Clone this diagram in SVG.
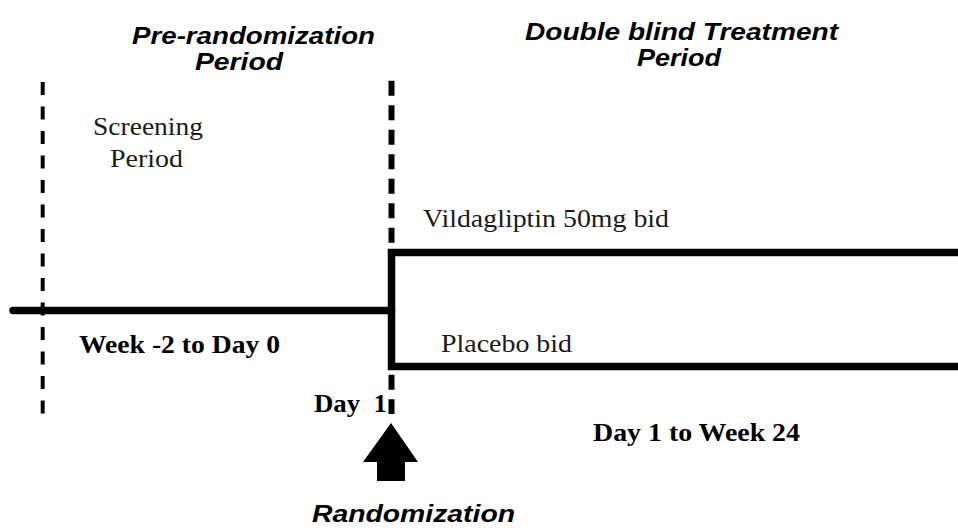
<svg xmlns="http://www.w3.org/2000/svg" width="958" height="528" viewBox="0 0 958 528">
<style>
.h{font-family:"Liberation Sans",Arial,sans-serif;font-weight:bold;font-style:italic;font-size:24px;fill:#000}
.t{font-family:"Liberation Serif","Times New Roman",serif;font-size:26px;fill:#1a1a1a}
.tb{font-family:"Liberation Serif","Times New Roman",serif;font-size:26px;font-weight:bold;fill:#000}
.dash{fill:none;stroke:#000}
.thick{fill:none;stroke:#000;stroke-width:7.5}
</style>
<rect width="958" height="528" fill="#fff"/>
<g id="headings">
<text class="h" x="132" y="44" textLength="243" lengthAdjust="spacingAndGlyphs">Pre-randomization</text>
<text class="h" x="195" y="70" textLength="88" lengthAdjust="spacingAndGlyphs">Period</text>
<text class="h" x="525" y="40" font-size="25" textLength="313" lengthAdjust="spacingAndGlyphs">Double blind Treatment</text>
<text class="h" x="637" y="66" font-size="25" textLength="84" lengthAdjust="spacingAndGlyphs">Period</text>
</g>
<g id="screening">
<text class="t" x="93" y="135" textLength="110" lengthAdjust="spacingAndGlyphs">Screening</text>
<text class="t" x="110" y="167" textLength="73" lengthAdjust="spacingAndGlyphs">Period</text>
</g>
<g id="connectors">
<line class="dash" x1="42.7" y1="82" x2="42.7" y2="414" stroke-width="4" stroke-dasharray="13 11.5"/>
<line class="dash" x1="391.5" y1="80.7" x2="391.5" y2="414" stroke-width="6" stroke-dasharray="15 9.5"/>
<line class="thick" x1="13" y1="310.5" x2="391.5" y2="310.5" stroke-linecap="round"/>
<path class="thick" d="M958 252.5 H391.5 V366.5 H958"/>
</g>
<g id="arms">
<text class="t" x="423" y="227" textLength="246" lengthAdjust="spacingAndGlyphs">Vildagliptin 50mg bid</text>
<text class="t" x="441" y="352" textLength="131" lengthAdjust="spacingAndGlyphs">Placebo bid</text>
</g>
<g id="durations">
<text class="tb" x="79" y="353" textLength="201" lengthAdjust="spacingAndGlyphs">Week -2 to Day 0</text>
<text class="tb" x="593" y="441" textLength="207" lengthAdjust="spacingAndGlyphs">Day 1 to Week 24</text>
<text class="tb" x="314" y="412" textLength="73" lengthAdjust="spacingAndGlyphs" xml:space="preserve">Day  1</text>
</g>
<g id="randomization">
<polygon points="391,423 418,462 405,462 405,481 377,481 377,462 363,462" fill="#000"/>
<text class="h" x="312" y="522" textLength="203" lengthAdjust="spacingAndGlyphs">Randomization</text>
</g>
</svg>
